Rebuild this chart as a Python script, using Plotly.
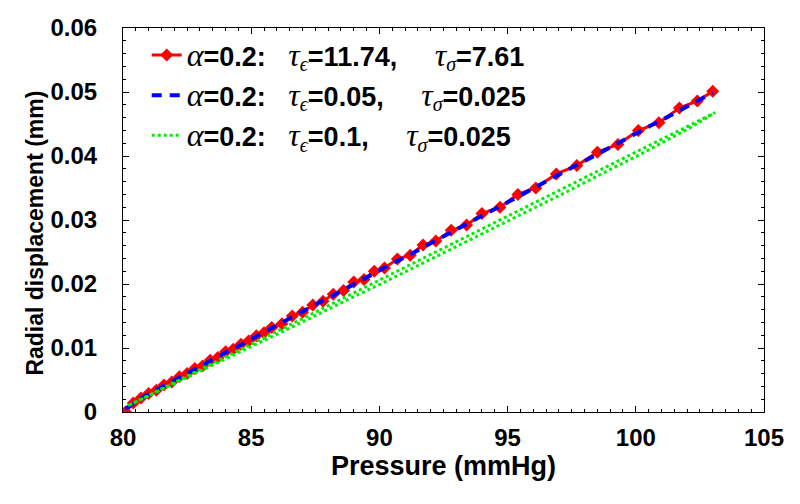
import plotly.graph_objects as go

# ---- data ----
red_p = [80.1, 80.4, 80.7, 81.0, 81.3, 81.6, 81.9, 82.2, 82.5, 82.8, 83.1, 83.4, 83.7, 84.0,
         84.3, 84.6, 84.9, 85.2, 85.5, 85.8, 86.2, 86.6, 87.0, 87.4, 87.8, 88.2, 88.6, 89.0,
         89.4, 89.8, 90.2, 90.7, 91.2, 91.7, 92.2, 92.8, 93.4, 94.0, 94.7, 95.4, 96.1, 96.9,
         97.7, 98.5, 99.3, 100.1, 100.9, 101.7, 102.4, 103.0]
red_v = [0.0000, 0.0014, 0.0022, 0.0029, 0.0034, 0.0042, 0.0047, 0.0055, 0.0060, 0.0068,
         0.0072, 0.0081, 0.0085, 0.0094, 0.0098, 0.0106, 0.0111, 0.0119, 0.0124, 0.0132,
         0.0138, 0.0150, 0.0156, 0.0167, 0.0173, 0.0184, 0.0190, 0.0203, 0.0207, 0.0220,
         0.0225, 0.0239, 0.0245, 0.0261, 0.0267, 0.0284, 0.0292, 0.0310, 0.0320, 0.0340,
         0.0350, 0.0372, 0.0385, 0.0406, 0.0418, 0.0440, 0.0452, 0.0475, 0.0486, 0.0501]

blue_p = [80.1, 80.6, 81.1, 81.6, 82.1, 82.6, 83.1, 83.6, 84.1, 84.6, 85.1, 85.6, 86.1, 86.6,
          87.1, 87.6, 88.1, 88.6, 89.1, 89.6, 90.1, 90.6, 91.1, 91.6, 92.1, 92.6, 93.1, 93.6,
          94.1, 94.6, 95.1, 95.6, 96.1, 96.6, 97.1, 97.6, 98.1, 98.6, 99.1, 99.6, 100.1, 100.6,
          101.1, 101.6, 102.1, 102.6, 103.0]
blue_v = [0.0005, 0.0019, 0.0030, 0.0041, 0.0052, 0.0063, 0.0073, 0.0084, 0.0095, 0.0105,
          0.0116, 0.0127, 0.0137, 0.0148, 0.0159, 0.0170, 0.0180, 0.0191, 0.0202, 0.0212,
          0.0223, 0.0234, 0.0244, 0.0255, 0.0266, 0.0277, 0.0287, 0.0298, 0.0309, 0.0319,
          0.0330, 0.0341, 0.0351, 0.0362, 0.0373, 0.0384, 0.0394, 0.0405, 0.0416, 0.0426,
          0.0437, 0.0448, 0.0458, 0.0469, 0.0480, 0.0491, 0.0499]

green_up_p = [80.2, 81.2, 82.2, 83.2, 84.2, 85.2, 86.2, 87.2, 88.2, 89.2, 90.2, 91.2, 92.2,
              93.2, 94.2, 95.2, 96.2, 97.2, 98.2, 99.2, 100.2, 101.2, 102.2, 103.1]
green_up_v = [0.0010, 0.0030, 0.0050, 0.0070, 0.0090, 0.0110, 0.0130, 0.0150, 0.0170, 0.0190,
              0.0210, 0.0230, 0.0250, 0.0270, 0.0290, 0.0310, 0.0330, 0.0350, 0.0370, 0.0390,
              0.0410, 0.0430, 0.0450, 0.0468]
green_down_p = [103.1, 102.2, 101.2, 100.2, 99.2, 98.2, 97.2, 96.2, 95.2, 94.2, 93.2, 92.2,
                91.2, 90.2, 89.2, 88.2, 87.2, 86.2, 85.2, 84.2, 83.2, 82.2, 81.2, 80.2]
green_down_v = [0.0468, 0.0446, 0.0424, 0.0403, 0.0383, 0.0362, 0.0342, 0.0322, 0.0302,
                0.0282, 0.0262, 0.0243, 0.0223, 0.0203, 0.0184, 0.0164, 0.0145, 0.0125,
                0.0106, 0.0087, 0.0067, 0.0048, 0.0029, 0.0010]

x_ticks = [80, 85, 90, 95, 100, 105]
y_ticks = [0, 0.01, 0.02, 0.03, 0.04, 0.05, 0.06]
y_tick_text = ["0", "0.01", "0.02", "0.03", "0.04", "0.05", "0.06"]

SANS = "Liberation Sans, Arial, sans-serif"
SERIF = "'Liberation Serif', 'Times New Roman', serif"
NB = "\u00a0"


def greek(ch, size=32):
    return (f"<span style=\"font-family:{SERIF};font-weight:normal;font-style:italic;"
            f"font-size:{size}px\">{ch}</span>")


def label(te, ts):
    return (greek("α") + "<b>=0.2:</b>" + NB * 3 + greek("τ") + "<sub>" + greek("ϵ", 20) + "</sub>"
            + f"<b>={te},</b>" + NB * 5 + greek("τ") + "<sub>" + greek("σ", 20) + "</sub>"
            + f"<b>={ts}</b>")


fig = go.Figure()
fig.add_trace(go.Scatter(
    x=red_p, y=red_v, mode="lines+markers", name=label("11.74", "7.61"),
    legendgroup="a",
    line=dict(color="#ff0000", width=3),
    marker=dict(symbol="diamond", size=10, color="#ff0000"),
))
fig.add_trace(go.Scatter(
    x=blue_p, y=blue_v, mode="lines", name=label("0.05", "0.025"),
    legendgroup="b",
    line=dict(color="#0000ff", width=4, dash="10px,8px"),
))
fig.add_trace(go.Scatter(
    x=green_up_p + green_down_p, y=green_up_v + green_down_v, mode="lines",
    name=label("0.1", "0.025"), legendgroup="c",
    line=dict(color="#00ee00", width=3, dash="3px,3px"),
))

axis_common = dict(
    showline=True, linecolor="black", linewidth=1, mirror="allticks",
    ticks="inside", ticklen=6, tickcolor="black", tickwidth=1,
    showgrid=False, zeroline=False, automargin=False,
    tickfont=dict(family=SANS, size=24, color="black", weight="bold"),
)

# the page adds an 8px body margin, so the figure's margins are reduced to compensate
fig.update_layout(
    width=800, height=504,
    margin=dict(l=115, r=44, t=20, b=100, autoexpand=False),
    paper_bgcolor="white", plot_bgcolor="white",
    xaxis=dict(
        range=[80, 105], tickvals=x_ticks, ticktext=[str(v) for v in x_ticks],
        minor=dict(ticks="inside", ticklen=3, dtick=0.5, tickcolor="black", showgrid=False),
        title=dict(text="<b>Pressure (mmHg)</b>", standoff=0,
                   font=dict(family=SANS, size=27, color="black")),
        ticklabelstandoff=4,
        **axis_common,
    ),
    yaxis=dict(
        range=[0, 0.06], tickvals=y_ticks, ticktext=y_tick_text,
        minor=dict(ticks="inside", ticklen=3, dtick=0.002, tickcolor="black", showgrid=False),
        ticklabelstandoff=20,
        **axis_common,
    ),
    annotations=[dict(
        text="<b>Radial displacement (mm)</b>", textangle=-90,
        xref="paper", yref="paper", x=-0.137, y=0.465, xanchor="center", yanchor="middle",
        showarrow=False, font=dict(family=SANS, size=23, color="black"),
    )],
    legend=dict(
        x=0.037, y=0.992, xanchor="left", yanchor="top",
        bgcolor="rgba(0,0,0,0)", borderwidth=0,
        font=dict(family=SANS, size=27, color="black"),
        tracegroupgap=2, itemwidth=30,
    ),
    showlegend=True,
)

fig.write_html("out.html")
